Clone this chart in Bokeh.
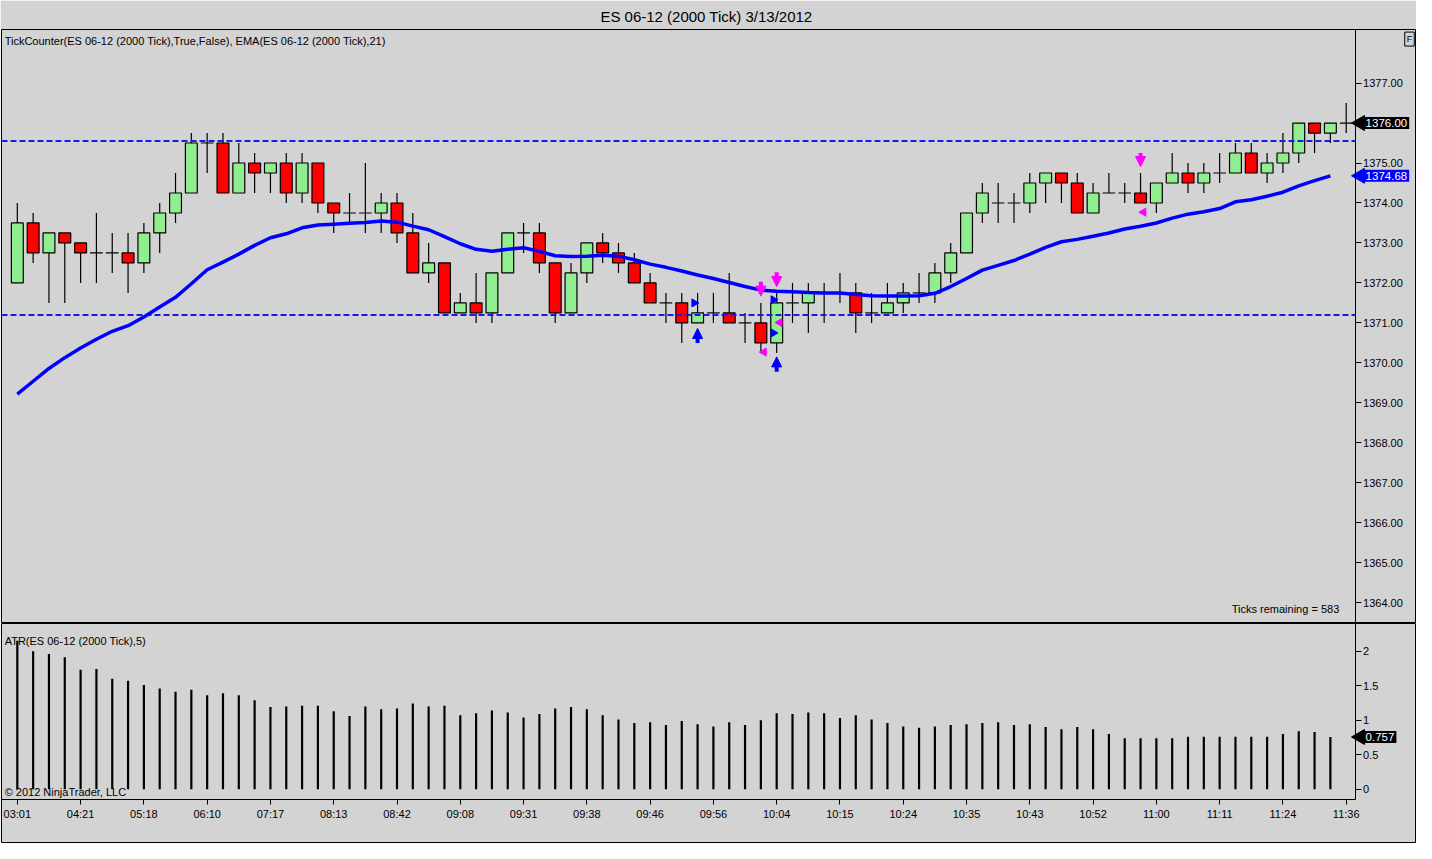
import numpy as np
from bokeh.plotting import figure
from bokeh.models import Range1d, Label, FixedTicker, NumeralTickFormatter, Arrow, NormalHead, LinearAxis
from bokeh.layouts import column
from bokeh.embed import file_html
from bokeh.resources import INLINE

FONT = "Liberation Sans"
BG = "#d3d3d3"
UP = "#90ee90"
DOWN = "#ff0000"
BLUE = "#0000ff"
PINK = "#ff00ff"

# ---------------- data ----------------
opens = [1372.0, 1373.5, 1372.75, 1373.25, 1373.0, 1372.75, 1372.75, 1372.75, 1372.5, 1373.25,
         1373.75, 1374.25, 1375.5, 1375.5, 1374.25, 1375.0, 1374.75, 1375.0, 1374.25, 1375.0,
         1374.0, 1373.75, 1373.75, 1373.75, 1374.0, 1373.25, 1372.25, 1372.5, 1371.25, 1371.5,
         1371.25, 1372.25, 1373.25, 1373.25, 1372.5, 1371.25, 1372.25, 1373.0, 1372.75, 1372.5,
         1372.0, 1371.5, 1371.5, 1371.0, 1371.25, 1371.25, 1371.0, 1371.0, 1370.5, 1371.5,
         1371.5, 1371.75, 1371.75, 1371.75, 1371.25, 1371.25, 1371.5, 1371.75, 1371.75, 1372.25,
         1372.75, 1373.75, 1374.0, 1374.0, 1374.0, 1374.5, 1374.75, 1374.5, 1373.75, 1374.25,
         1374.25, 1374.25, 1374.0, 1374.5, 1374.75, 1374.5, 1374.75, 1374.75, 1375.25, 1374.75,
         1375.0, 1375.25, 1376.0, 1375.75, 1376.0]
highs = [1374.0, 1373.75, 1373.25, 1373.25, 1373.0, 1373.75, 1373.25, 1373.25, 1373.5, 1374.0,
         1374.75, 1375.75, 1375.75, 1375.75, 1375.5, 1375.25, 1375.0, 1375.25, 1375.25, 1375.0,
         1374.0, 1374.25, 1375.0, 1374.25, 1374.25, 1373.75, 1373.0, 1372.5, 1371.75, 1372.25,
         1372.25, 1373.25, 1373.5, 1373.5, 1372.5, 1372.5, 1373.0, 1373.25, 1373.0, 1372.75,
         1372.25, 1371.75, 1371.75, 1371.75, 1371.75, 1372.25, 1371.25, 1371.5, 1371.75, 1372.0,
         1372.0, 1372.0, 1372.25, 1372.0, 1371.75, 1372.0, 1372.0, 1372.25, 1372.5, 1373.0,
         1373.75, 1374.5, 1374.5, 1374.25, 1374.75, 1374.75, 1374.75, 1374.75, 1374.5, 1374.75,
         1374.5, 1374.75, 1374.5, 1375.25, 1375.0, 1375.0, 1375.25, 1375.5, 1375.5, 1375.25,
         1375.75, 1376.0, 1376.0, 1376.0, 1376.5]
lows = [1372.0, 1372.5, 1371.5, 1371.5, 1372.0, 1372.0, 1372.25, 1371.75, 1372.25, 1372.75,
        1373.5, 1374.25, 1374.75, 1374.25, 1374.25, 1374.25, 1374.25, 1374.0, 1374.0, 1373.75,
        1373.25, 1373.5, 1373.25, 1373.25, 1373.0, 1372.25, 1372.0, 1371.25, 1371.25, 1371.0,
        1371.0, 1372.25, 1372.75, 1372.25, 1371.0, 1371.25, 1372.0, 1372.5, 1372.25, 1372.0,
        1371.5, 1371.0, 1370.5, 1371.0, 1371.0, 1371.0, 1370.5, 1370.25, 1370.25, 1371.0,
        1370.75, 1371.0, 1371.5, 1370.75, 1371.0, 1371.25, 1371.25, 1371.5, 1371.5, 1372.0,
        1372.75, 1373.5, 1373.5, 1373.5, 1373.75, 1374.0, 1374.0, 1373.75, 1373.75, 1374.25,
        1374.0, 1374.0, 1373.75, 1374.5, 1374.25, 1374.25, 1374.5, 1374.75, 1374.75, 1374.5,
        1374.75, 1375.0, 1375.25, 1375.5, 1375.75]
closes = [1373.5, 1372.75, 1373.25, 1373.0, 1372.75, 1372.75, 1372.75, 1372.5, 1373.25, 1373.75,
          1374.25, 1375.5, 1375.5, 1374.25, 1375.0, 1374.75, 1375.0, 1374.25, 1375.0, 1374.0,
          1373.75, 1373.75, 1373.75, 1374.0, 1373.25, 1372.25, 1372.5, 1371.25, 1371.5, 1371.25,
          1372.25, 1373.25, 1373.25, 1372.5, 1371.25, 1372.25, 1373.0, 1372.75, 1372.5, 1372.0,
          1371.5, 1371.5, 1371.0, 1371.25, 1371.25, 1371.0, 1371.0, 1370.5, 1371.5, 1371.5,
          1371.75, 1371.75, 1371.75, 1371.25, 1371.25, 1371.5, 1371.75, 1371.75, 1372.25, 1372.75,
          1373.75, 1374.25, 1374.0, 1374.0, 1374.5, 1374.75, 1374.5, 1373.75, 1374.25, 1374.25,
          1374.25, 1374.0, 1374.5, 1374.75, 1374.5, 1374.75, 1374.75, 1375.25, 1374.75, 1375.0,
          1375.25, 1376.0, 1375.75, 1376.0, 1376.0]
ema21 = [1369.22, 1369.54, 1369.86, 1370.13, 1370.37, 1370.59, 1370.79, 1370.93, 1371.15, 1371.40,
         1371.64, 1371.98, 1372.33, 1372.52, 1372.72, 1372.94, 1373.13, 1373.23, 1373.38, 1373.45,
         1373.47, 1373.49, 1373.51, 1373.55, 1373.52, 1373.42, 1373.33, 1373.16, 1372.98, 1372.84,
         1372.79, 1372.84, 1372.88, 1372.79, 1372.68, 1372.66, 1372.67, 1372.69, 1372.67, 1372.58,
         1372.47, 1372.39, 1372.30, 1372.20, 1372.11, 1372.01, 1371.91, 1371.82, 1371.79, 1371.78,
         1371.76, 1371.75, 1371.75, 1371.71, 1371.68, 1371.67, 1371.67, 1371.68, 1371.74, 1371.91,
         1372.11, 1372.32, 1372.44, 1372.56, 1372.72, 1372.89, 1373.03, 1373.09, 1373.17, 1373.25,
         1373.35, 1373.42, 1373.50, 1373.62, 1373.72, 1373.78, 1373.86, 1374.03, 1374.08, 1374.17,
         1374.27, 1374.43, 1374.56, 1374.68]
atr5 = [2.15, 2.00, 1.96, 1.91, 1.73, 1.74, 1.60, 1.57, 1.51, 1.46,
        1.41, 1.44, 1.36, 1.39, 1.36, 1.29, 1.19, 1.20, 1.21, 1.21,
        1.13, 1.06, 1.20, 1.16, 1.17, 1.24, 1.20, 1.21, 1.07, 1.10,
        1.14, 1.11, 1.04, 1.09, 1.17, 1.19, 1.16, 1.07, 1.01, 0.96,
        0.97, 0.93, 0.99, 0.94, 0.91, 0.97, 0.93, 1.00, 1.10, 1.09,
        1.11, 1.10, 1.03, 1.07, 1.01, 0.96, 0.91, 0.89, 0.91, 0.93,
        0.94, 0.96, 0.97, 0.93, 0.94, 0.90, 0.87, 0.90, 0.87, 0.80,
        0.74, 0.74, 0.74, 0.74, 0.76, 0.76, 0.76, 0.76, 0.76, 0.76,
        0.80, 0.84, 0.83, 0.757]
time_labels = ["03:01", "04:21", "05:18", "06:10", "07:17", "08:13", "08:42", "09:08", "09:31", "09:38",
               "09:46", "09:56", "10:04", "10:15", "10:24", "10:35", "10:43", "10:52", "11:00", "11:11",
               "11:24", "11:36"]
price_ticks = [1364, 1365, 1366, 1367, 1368, 1369, 1370, 1371, 1372, 1373, 1374, 1375, 1376, 1377]
atr_ticks = [0, 0.5, 1, 1.5, 2]
atr_tick_labels = ["0", "0.5", "1", "1.5", "2"]
upper_line = 1375.55
lower_line = 1371.2

# signal markers
up_arrow_bar = [43, 48]
up_arrow_tail = [1370.5, 1369.78]
up_arrow_tip = [1370.86, 1370.15]
down_arrow_bar = [47, 48, 71]
down_arrow_tail = [1372.03, 1372.27, 1375.25]
down_arrow_tip = [1371.67, 1371.91, 1374.91]
blue_tri_x = [42.79, 47.79, 47.79]
blue_tri_y = [1371.5, 1371.58, 1370.75]
pink_tri_x = [47.19, 48.19, 71.19]
pink_tri_y = [1370.27, 1371.01, 1373.77]

last_price = 1376.00
last_ema = 1374.68
last_atr = 0.757
ticks_remaining = 583

# ---------------- layout constants ----------------
W = 1416
H1 = 623          # title + price panel
H2 = 220          # ATR panel + time axis
X0, X1 = -1.0, 88.38      # full frame width in bar units
AXIS_X = 84.56            # where the value axes sit
TAG_X = 85.1
ATR_BOTTOM = -0.143       # where the time axis sits

n = len(opens)
xs = np.arange(n)
o = np.array(opens); c = np.array(closes); h = np.array(highs); l = np.array(lows)
inc = c > o
dec = c < o
doj = c == o

x_range = Range1d(X0, X1)

def style_axis(ax):
    ax.major_label_text_font = FONT
    ax.major_label_text_font_size = "11px"
    ax.major_label_text_color = "black"
    ax.axis_line_color = "black"
    ax.major_tick_line_color = "black"
    ax.major_tick_out = 6
    ax.major_tick_in = 0
    ax.minor_tick_out = 0
    ax.minor_tick_in = 0
    ax.major_label_standoff = 2

def tag(fig, y, text, color):
    fig.scatter([TAG_X - 0.22], [y], marker="triangle", angle=np.pi / 2, size=15,
                fill_color=color, line_color=color)
    fig.add_layout(Label(x=TAG_X, y=y, text=text, text_font=FONT,
                         text_font_size="11.5px", text_baseline="middle", text_align="left",
                         text_color="white", background_fill_color=color, padding=2))

# ---------------- price panel ----------------
p1 = figure(width=W, height=H1, x_range=x_range, y_range=Range1d(1363.48, 1378.34),
            x_axis_location=None, y_axis_location=None,
            output_backend="svg", toolbar_location=None,
            background_fill_color=BG, border_fill_color=BG,
            min_border_left=1, min_border_right=1, min_border_top=27, min_border_bottom=0,
            outline_line_color="black", outline_line_width=1)
p1.title.text = "ES 06-12 (2000 Tick)  3/13/2012"
p1.title.align = "center"
p1.title.text_font = FONT
p1.title.text_font_size = "15px"
p1.title.text_font_style = "normal"
p1.title.text_color = "black"
p1.grid.visible = False
ya = LinearAxis(fixed_location=AXIS_X, ticker=FixedTicker(ticks=price_ticks),
                formatter=NumeralTickFormatter(format="0.00"))
style_axis(ya)
p1.add_layout(ya, "right")

# wicks
p1.segment(x0=xs, y0=l, x1=xs, y1=h, line_color="black", line_width=1.2)
# bodies
p1.vbar(x=xs[inc], bottom=o[inc], top=c[inc], width=0.75, fill_color=UP, line_color="black", line_width=1.2)
p1.vbar(x=xs[dec], bottom=c[dec], top=o[dec], width=0.75, fill_color=DOWN, line_color="black", line_width=1.2)
# doji
p1.segment(x0=xs[doj] - 0.4, y0=o[doj], x1=xs[doj] + 0.4, y1=o[doj], line_color="black", line_width=1.2)

# horizontal dashed lines
lv = [upper_line, lower_line]
p1.segment(x0=[X0] * 2, y0=lv, x1=[AXIS_X] * 2, y1=lv, line_color="#1a1ae6", line_width=2, line_dash="6 3")

# EMA
p1.line(xs[:len(ema21)], ema21, line_color=BLUE, line_width=3.5)

# signal markers
p1.scatter(blue_tri_x, blue_tri_y, marker="triangle", size=8, angle=-np.pi / 2,
           fill_color=BLUE, line_color=BLUE)
p1.scatter(pink_tri_x, pink_tri_y, marker="triangle", size=8, angle=np.pi / 2,
           fill_color=PINK, line_color=PINK)
for bx, t0, t1 in zip(up_arrow_bar, up_arrow_tail, up_arrow_tip):
    p1.add_layout(Arrow(x_start=bx, y_start=t0, x_end=bx, y_end=t1, line_color=BLUE, line_width=4,
                        end=NormalHead(size=10, fill_color=BLUE, line_color=BLUE)))
for bx, t0, t1 in zip(down_arrow_bar, down_arrow_tail, down_arrow_tip):
    p1.add_layout(Arrow(x_start=bx, y_start=t0, x_end=bx, y_end=t1, line_color=PINK, line_width=4,
                        end=NormalHead(size=10, fill_color=PINK, line_color=PINK)))

# texts
p1.add_layout(Label(x=-0.8, y=1378.04, text="TickCounter(ES 06-12 (2000 Tick),True,False), EMA(ES 06-12 (2000 Tick),21)",
                    text_font=FONT, text_font_size="11px", text_baseline="middle", text_align="left", text_color="black"))
p1.add_layout(Label(x=83.56, y=1363.85, text="Ticks remaining = %d" % ticks_remaining,
                    text_font=FONT, text_font_size="11px", text_baseline="middle", text_align="right", text_color="black"))
tag(p1, last_price, "%.2f" % last_price, "black")
tag(p1, last_ema, "%.2f" % last_ema, BLUE)
p1.add_layout(Label(x=88.0, y=1378.1, text="F", text_font=FONT, text_font_size="9px",
                    text_baseline="middle", text_align="center", text_color="black",
                    border_line_color="black", padding=2))

# ---------------- ATR panel ----------------
p2 = figure(width=W, height=H2, x_range=x_range, y_range=Range1d(-0.771, 2.4),
            x_axis_location=None, y_axis_location=None,
            output_backend="svg", toolbar_location=None,
            background_fill_color=BG, border_fill_color=BG,
            min_border_left=1, min_border_right=1, min_border_top=0, min_border_bottom=1,
            outline_line_color="black", outline_line_width=1)
p2.grid.visible = False
ya2 = LinearAxis(fixed_location=AXIS_X, ticker=FixedTicker(ticks=atr_ticks), bounds=(ATR_BOTTOM, 2.4))
ya2.major_label_overrides = {t: s for t, s in zip(atr_ticks, atr_tick_labels)}
style_axis(ya2)
p2.add_layout(ya2, "right")

tick_pos = list(range(0, 4 * len(time_labels), 4))
xa = LinearAxis(fixed_location=ATR_BOTTOM, ticker=FixedTicker(ticks=tick_pos), bounds=(X0, AXIS_X))
xa.major_label_overrides = {t: lab for t, lab in zip(tick_pos, time_labels)}
style_axis(xa)
xa.major_tick_out = 5
xa.major_label_standoff = 4
p2.add_layout(xa, "below")

p2.segment(x0=xs[:len(atr5)], y0=0, x1=xs[:len(atr5)], y1=atr5, line_color="black", line_width=2.2)

p2.add_layout(Label(x=-0.8, y=2.14, text="ATR(ES 06-12 (2000 Tick),5)", text_font=FONT, text_font_size="11px",
                    text_baseline="middle", text_align="left", text_color="black"))
p2.add_layout(Label(x=-0.8, y=-0.04, text="\u00a9 2012 NinjaTrader, LLC", text_font=FONT, text_font_size="11px",
                    text_baseline="middle", text_align="left", text_color="black"))
tag(p2, last_atr, "%.3f" % last_atr, "black")

layout = column(p1, p2, spacing=0)
open("out.html", "w").write(file_html(layout, INLINE))
